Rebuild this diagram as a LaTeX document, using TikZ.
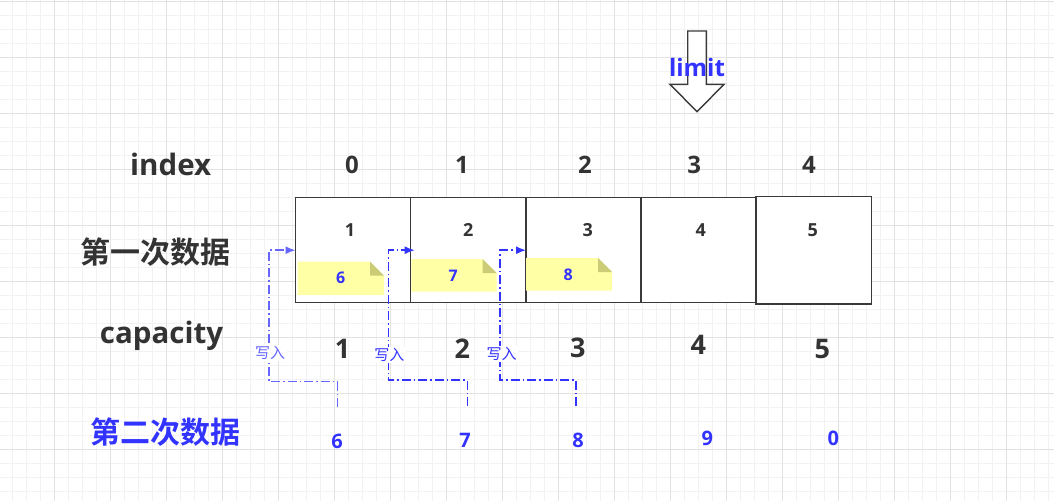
\documentclass[tikz,border=0pt]{standalone}
\usepackage{fontspec}
\setmainfont{Open Sans}
\newfontfamily\cjk{Noto Sans CJK SC}
\newfontfamily\cjkb{Noto Sans CJK SC Bold}
\usetikzlibrary{arrows.meta,calc}
\definecolor{gridminor}{HTML}{F2F2F2}
\definecolor{gridmajor}{HTML}{E2E2E2}
\definecolor{darktext}{HTML}{333333}
\definecolor{boxline}{HTML}{3A3A3A}
\definecolor{bluetext}{HTML}{3333FF}
\definecolor{lightblue}{HTML}{6666FF}
\definecolor{notefill}{HTML}{FFFFA6}
\definecolor{notefold}{HTML}{CCCC77}
\begin{document}
\begin{tikzpicture}[x=1pt,y=-1pt,
  gminor/.style={draw=gridminor,line width=1pt},
  gmajor/.style={draw=gridmajor,line width=1pt},
  cell/.style={draw=boxline,line width=1.4pt,fill=white,minimum width=115pt,minimum height=105pt,inner sep=0pt,outer sep=0pt},
  celltxt/.style={text=darktext,font=\bfseries\fontsize{18}{18}\selectfont,inner sep=0pt},
  idxnum/.style={text=darktext,font=\bfseries\fontsize{24}{24}\selectfont,inner sep=0pt},
  capnum/.style={text=darktext,font=\bfseries\fontsize{27}{27}\selectfont,inner sep=0pt},
  rowlabel/.style={text=darktext,font=\bfseries\fontsize{29.5}{29.5}\selectfont,inner sep=0pt},
  cjklabel/.style={text=darktext,font=\cjkb\fontsize{30}{30}\selectfont,inner sep=0pt},
  secnum/.style={text=bluetext,font=\bfseries\fontsize{20}{20}\selectfont,inner sep=0pt},
  notetxt/.style={text=bluetext,font=\bfseries\fontsize{16}{16}\selectfont,inner sep=0pt},
  conn/.style={draw=bluetext,line width=1.5pt,dash pattern=on 9pt off 3pt on 1.5pt off 3pt,-{Latex[length=10pt,width=8pt]}},
  connlight/.style={conn,draw=lightblue},
  writelbl/.style={text=bluetext,font=\cjk\fontsize{15}{15}\selectfont,fill=white,inner sep=1.5pt},
]
\useasboundingbox (0,0) rectangle (1054,501);
\fill[white] (0,0) rectangle (1054,501);
% grid
\foreach \i in {0,...,75} {\draw[gminor] ({-1.3+14*\i},0) -- ++(0,501);}
\foreach \i in {0,...,36} {\draw[gminor] (0,{1.3+14*\i}) -- ++(1054,0);}
\foreach \i in {0,...,19} {\draw[gmajor] ({-1.3+56*\i},0) -- ++(0,501);}
\foreach \i in {0,...,9} {\draw[gmajor] (0,{1.3+56*\i}) -- ++(1054,0);}

% limit arrow
\draw[draw=boxline,line width=1.4pt,fill=white]
  (687.7,31) -- (706.3,31) -- (706.3,84.3) -- (724,84.3) -- (697,111.7) -- (670,84.3) -- (687.7,84.3) -- cycle;
\node[text=bluetext,font=\bfseries\fontsize{24}{24}\selectfont,inner sep=0pt] (limit) at (697,67.5) {limit};

% row labels
\node[rowlabel] (lidx) at (170.7,164) {index};
\node[cjklabel] (lfirst) at (155,252) {第一次数据};
\node[rowlabel] (lcap) at (161.5,336) {capacity};
\node[cjklabel,text=bluetext] (lsecond) at (165.5,432.5) {第二次数据};

% index numbers
\node[idxnum] (i0) at (352,165) {0};
\node[idxnum] (i1) at (462,165) {1};
\node[idxnum] (i2) at (585,165) {2};
\node[idxnum] (i3) at (694.3,165) {3};
\node[idxnum] (i4) at (809,165) {4};

% cells
\node[cell] (b1) at (353,250.2) {};
\node[cell] (b2) at (468.2,250.2) {};
\node[cell] (b3) at (583.5,250.2) {};
\node[cell] (b4) at (698.5,250.2) {};
\node[cell,minimum width=115.3pt,minimum height=107.3pt] (b5) at (813.6,250.35) {};
\node[celltxt] (c1) at (350,229.7) {1};
\node[celltxt] (c2) at (468.3,229.7) {2};
\node[celltxt] (c3) at (587.7,229.7) {3};
\node[celltxt] (c4) at (700.7,229.7) {4};
\node[celltxt] (c5) at (812.7,229.7) {5};

% notes
\foreach \nx/\ny/\nw/\nh in {297.7/261.7/86.3/33.3, 411.3/259/85.4/32.7, 526/258/86/32.7} {
  \fill[notefill] (\nx,\ny) -- ({\nx+\nw-14},\ny) -- ({\nx+\nw},{\ny+14}) -- ({\nx+\nw},{\ny+\nh}) -- (\nx,{\ny+\nh}) -- cycle;
  \fill[notefold] ({\nx+\nw-14},\ny) -- ({\nx+\nw},{\ny+14}) -- ({\nx+\nw-14},{\ny+14}) -- cycle;
}
\node[notetxt] (t6) at (340.7,277.7) {6};
\node[notetxt] (t7) at (453.3,276) {7};
\node[notetxt] (t8) at (568.3,275) {8};

% capacity numbers
\node[capnum] (k1) at (342.7,349.3) {1};
\node[capnum] (k2) at (462.3,349) {2};
\node[capnum] (k3) at (577.7,348) {3};
\node[capnum] (k4) at (698.3,345) {4};
\node[capnum] (k5) at (822.3,349) {5};

% second data
\node[secnum] (s6) at (337,441.5) {6};
\node[secnum] (s7) at (465,440.5) {7};
\node[secnum] (s8) at (578,440.5) {8};
\node[secnum] (s9) at (707.3,438.3) {9};
\node[secnum] (s0) at (833.3,438) {0};

% connectors
\coordinate (e6) at (337.3,407);
\coordinate (e7) at (467.3,406);
\coordinate (e8) at (576,406);
\coordinate (w6) at (269,381.7);
\coordinate (w7) at (388.3,380);
\coordinate (w8) at (500,380);
\draw[connlight] (e6) |- (w6) |- (b1.west);
\draw[conn] (e7) |- (w7) |- ($(b2.west)+(4,0)$);
\draw[conn] (e8) |- (w8) |- (b3.west);
\node[writelbl,text=lightblue] (wr1) at (270,352.7) {写入};
\node[writelbl] (wr2) at (389.3,355) {写入};
\node[writelbl] (wr3) at (501.7,354) {写入};
\end{tikzpicture}
\end{document}
